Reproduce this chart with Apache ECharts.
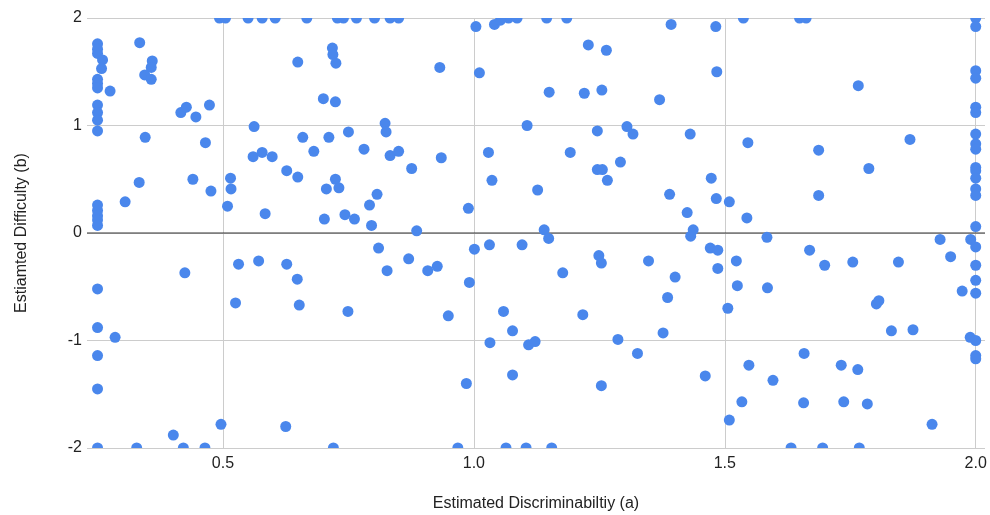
<!DOCTYPE html>
<html><head><meta charset="utf-8">
<script src="https://cdn.jsdelivr.net/npm/echarts@6/dist/echarts.min.js"></script>
<style>html,body{margin:0;padding:0;background:#fff}#c{width:990px;height:515px}</style>
</head><body><div id="c"></div>
<script>
const xTitle = 'Estimated Discriminabiltiy (a)';
const yTitle = 'Estiamted Difficulty (b)';
const xTicks = [0.5, 1.0, 1.5, 2.0];
const xRange = [0.229, 2.0185];
const yRange = [-2, 2];

// Estimated discriminability (a) per item
const discriminability = [
  0.493,0.505,0.550,0.578,0.604,0.667,0.728,0.740,0.766,0.802,
  0.833,0.850,1.069,1.086,1.145,1.185,1.537,1.649,1.662,2.0,
  1.004,1.041,1.053,1.393,1.482,2.0,
  0.25,0.25,0.25,0.26,
  0.258,0.25,0.25,0.25,0.275,0.25,0.25,0.25,0.25,0.25,
  0.25,0.25,0.25,0.25,0.25,0.25,0.285,0.25,0.25,0.25,
  0.334,0.359,0.357,0.344,0.357,0.649,0.718,0.719,0.725,0.700,
  0.724,0.416,0.427,0.446,0.473,0.345,0.465,0.562,0.659,0.711,
  0.750,0.823,0.825,0.681,0.781,0.833,0.560,0.578,0.598,0.627,
  0.649,0.333,0.440,0.476,0.515,0.516,0.509,0.305,0.584,0.724,
  0.706,0.731,0.807,0.792,0.702,0.743,0.762,0.796,
  0.932,1.011,1.228,1.264,1.150,1.220,1.255,1.370,1.106,1.246,1.305,1.317,
  0.850,0.876,0.935,1.029,1.192,1.036,1.127,1.246,1.256,1.266,1.292,1.390,0.989,0.886,1.140,1.149,
  1.484,1.766,2.0,2.0,2.0,2.0,1.431,1.546,1.687,1.869,
  2.0,2.0,2.0,2.0,2.0,2.0,2.0,2.0,
  1.473,1.787,1.687,1.483,1.509,1.425,1.544,1.437,1.432,1.584,1.929,1.990,2.0,
  0.424,0.531,0.571,0.627,0.648,0.525,0.652,0.749,0.810,0.827,
  0.496,0.625,0.401,0.328,0.421,0.464,0.720,0.968,1.064,1.104,1.155,1.632,1.695,1.768,
  0.870,0.908,0.927,1.001,1.031,1.096,0.991,1.177,1.249,1.254,1.348,1.401,1.386,
  0.949,1.059,1.077,1.032,1.109,1.122,1.217,1.287,1.326,1.377,0.985,1.077,1.254,
  2.0,1.471,1.486,1.486,1.523,1.525,1.585,1.506,1.669,1.699,1.755,1.846,1.950,1.973,2.0,2.0,2.0,
  1.802,1.807,1.832,1.875,1.989,2.0,2.0,2.0,
  1.461,1.548,1.596,1.534,1.509,1.658,1.732,1.765,1.657,1.737,1.784,1.913
];

// Estimated difficulty (b) per item, same order
const difficulty = [
  2,2,2,2,2,2,2,2,2,2,
  2,2,2,2,2,2,2,2,2,2,
  1.92,1.94,1.98,1.94,1.92,1.92,
  1.76,1.71,1.67,1.61,
  1.53,1.43,1.39,1.35,1.32,1.19,1.12,1.05,0.95,0.26,
  0.21,0.16,0.12,0.07,-0.52,-0.88,-0.97,-1.14,-1.45,-2,
  1.77,1.60,1.54,1.47,1.43,1.59,1.72,1.66,1.58,1.25,
  1.22,1.12,1.17,1.08,1.19,0.89,0.84,0.99,0.89,0.89,
  0.94,1.02,0.94,0.76,0.78,0.72,0.71,0.75,0.71,0.58,
  0.52,0.47,0.50,0.39,0.51,0.41,0.25,0.29,0.18,0.50,
  0.41,0.42,0.36,0.26,0.13,0.17,0.13,0.07,
  1.54,1.49,1.75,1.70,1.31,1.30,1.33,1.24,1.00,0.95,0.99,0.92,
  0.76,0.60,0.70,0.75,0.75,0.49,0.40,0.59,0.59,0.49,0.66,0.36,0.23,0.02,0.03,-0.05,
  1.50,1.37,1.51,1.44,1.17,1.12,0.92,0.84,0.77,0.87,
  0.92,0.83,0.78,0.61,0.58,0.51,0.41,0.35,
  0.51,0.60,0.35,0.32,0.29,0.19,0.14,0.03,-0.03,-0.04,-0.06,-0.06,0.06,
  -0.37,-0.29,-0.26,-0.29,-0.43,-0.65,-0.67,-0.73,-0.14,-0.35,
  -1.78,-1.80,-1.88,-2,-2,-2,-2,-2,-2,-2,-2,-2,-2,-2,
  -0.24,-0.35,-0.31,-0.15,-0.11,-0.11,-0.46,-0.37,-0.21,-0.28,-0.26,-0.41,-0.60,
  -0.77,-0.73,-0.91,-1.02,-1.04,-1.01,-0.76,-0.99,-1.12,-0.93,-1.40,-1.32,-1.42,
  -0.13,-0.14,-0.16,-0.33,-0.26,-0.49,-0.51,-0.70,-0.16,-0.30,-0.27,-0.27,-0.22,-0.54,-0.30,-0.44,-0.56,
  -0.66,-0.63,-0.91,-0.90,-0.97,-1.00,-1.14,-1.17,
  -1.33,-1.23,-1.37,-1.57,-1.74,-1.12,-1.23,-1.27,-1.58,-1.57,-1.59,-1.78
];

if (discriminability.length !== difficulty.length) console.error('length mismatch', discriminability.length, difficulty.length);
const points = discriminability.map((a, i) => [a, difficulty[i]]);

const FONT = '"Liberation Sans", Arial, Helvetica, sans-serif';
const TXT = '#222222';
const chart = echarts.init(document.getElementById('c'), null, {renderer: 'canvas'});
chart.setOption({
  backgroundColor: '#ffffff',
  animation: false,
  textStyle: {fontFamily: FONT},
  grid: {left: 87, right: 5, top: 18, bottom: 67, containLabel: false, outerBoundsMode: 'none'},
  xAxis: {
    type: 'value', min: xRange[0], max: xRange[1],
    name: xTitle, nameLocation: 'middle', nameGap: 48,
    nameTextStyle: {fontSize: 16, color: TXT, fontFamily: FONT},
    axisLine: {show: false},
    axisTick: {show: false, customValues: xTicks},
    axisLabel: {customValues: xTicks, fontSize: 16, color: TXT, margin: 8, fontFamily: FONT,
      formatter: v => v.toFixed(1)},
    splitLine: {show: true, lineStyle: {color: '#cccccc', width: 1}}
  },
  yAxis: {
    type: 'value', min: yRange[0], max: yRange[1], interval: 1,
    name: yTitle, nameLocation: 'middle', nameGap: 57,
    nameTextStyle: {fontSize: 16, color: TXT, fontFamily: FONT},
    axisLine: {show: false},
    axisTick: {show: false},
    axisLabel: {fontSize: 16, color: TXT, margin: 5, fontFamily: FONT},
    splitLine: {show: true, lineStyle: {color: '#cccccc', width: 1}}
  },
  series: [
    {
      type: 'line', z: 1, silent: true, symbol: 'none',
      data: [[xRange[0], 0], [xRange[1], 0]],
      lineStyle: {color: '#333333', width: 1}
    },
    {
      type: 'custom', z: 2, clip: true, silent: true,
      encode: {x: 0, y: 1},
      data: points,
      renderItem: function (params, api) {
        const p = api.coord([api.value(0), api.value(1)]);
        return {type: 'circle', shape: {cx: p[0], cy: p[1], r: 5.5}, style: {fill: '#4a87ec'}};
      }
    }
  ]
});
</script>
</body></html>
